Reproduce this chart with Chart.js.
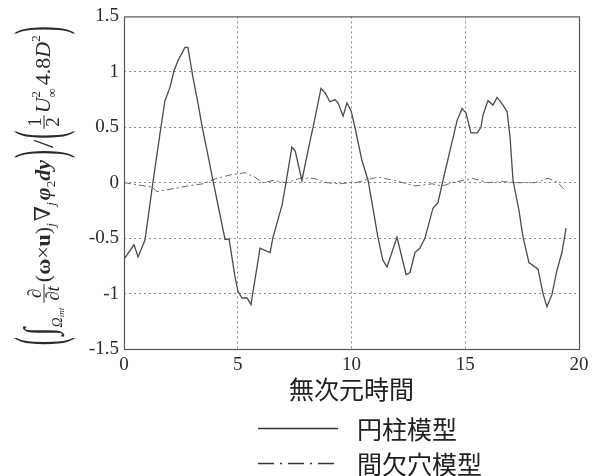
<!DOCTYPE html>
<html>
<head>
<meta charset="utf-8">
<script src="https://cdn.jsdelivr.net/npm/chart.js@4/dist/chart.umd.min.js"></script>
<style>
  html, body { margin: 0; padding: 0; background: #ffffff; }
  #wrap { width: 602px; height: 476px; }
</style>
</head>
<body>
<div id="wrap"><canvas id="c" width="602" height="476"></canvas></div>
<script>
// Non-dimensional time and force term for each model
const cylinderTime  = [0, 0.44, 0.62, 0.92, 1.27, 1.63, 1.80, 2.02, 2.20, 2.37, 2.68, 2.81, 3.03, 3.25, 3.43, 3.65, 3.91, 4.44, 4.62, 4.88, 5.01, 5.19, 5.41, 5.58, 5.98, 6.42, 6.55, 6.95, 7.12, 7.38, 7.52, 7.82, 8.18, 8.31, 8.66, 8.84, 9.05, 9.27, 9.41, 9.63, 9.80, 9.98, 10.15, 10.46, 10.73, 10.90, 11.16, 11.38, 11.56, 12.00, 12.40, 12.57, 12.79, 13.01, 13.23, 13.58, 13.80, 14.02, 14.33, 14.64, 14.86, 15.03, 15.25, 15.52, 15.69, 15.78, 16.00, 16.22, 16.40, 16.66, 16.84, 16.97, 17.10, 17.36, 17.54, 17.80, 18.20, 18.42, 18.59, 18.81, 19.03, 19.25, 19.43];
const cylinderValue = [-0.69, -0.56, -0.67, -0.52, 0.00, 0.51, 0.74, 0.86, 1.01, 1.10, 1.22, 1.22, 0.95, 0.72, 0.51, 0.29, 0.02, -0.51, -0.51, -0.85, -0.98, -1.04, -1.04, -1.10, -0.59, -0.63, -0.49, -0.20, 0.00, 0.32, 0.29, 0.02, 0.38, 0.50, 0.85, 0.81, 0.73, 0.75, 0.72, 0.60, 0.72, 0.65, 0.50, 0.20, 0.02, -0.18, -0.49, -0.70, -0.76, -0.49, -0.83, -0.81, -0.63, -0.59, -0.50, -0.23, -0.18, 0.02, 0.29, 0.56, 0.67, 0.63, 0.45, 0.45, 0.50, 0.61, 0.74, 0.70, 0.77, 0.70, 0.64, 0.41, 0.02, -0.25, -0.49, -0.72, -0.78, -1.00, -1.12, -1.01, -0.79, -0.63, -0.41];

const slotTime  = [0, 1.23, 1.45, 2.02, 2.77, 3.47, 4.09, 4.66, 5.01, 5.32, 5.76, 6.11, 6.55, 7.16, 7.74, 8.31, 8.92, 9.49, 9.93, 10.15, 11.16, 11.91, 12.79, 13.54, 13.98, 14.42, 15.30, 16.00, 16.62, 17.32, 18.07, 18.64, 19.08, 19.38];
const slotValue = [0.00, -0.04, -0.08, -0.06, -0.03, -0.01, 0.04, 0.07, 0.08, 0.09, 0.05, 0.00, 0.02, 0.00, 0.04, 0.04, 0.00, -0.01, 0.00, 0.00, 0.05, 0.02, -0.03, -0.01, -0.03, 0.00, 0.04, 0.00, 0.01, 0.00, 0.00, 0.04, 0.00, -0.07];

const xTicks = [0, 5, 10, 15, 20];
const yTicks = [-1.5, -1, -0.5, 0, 0.5, 1, 1.5];
const seriesNames = ['円柱模型', '間欠穴模型'];
const xTitle = '無次元時間';

const SERIF = '"Liberation Serif", "DejaVu Serif", serif';
const CJK = '"Noto Sans CJK JP", "Noto Sans CJK SC", sans-serif';

const toPoints = (xs, ys) => xs.map((x, i) => ({ x: x, y: ys[i] }));

// Solid frame around the plotting area
const framePlugin = {
  id: 'frame',
  afterDatasetsDraw(chart) {
    const { ctx, chartArea: a } = chart;
    ctx.save();
    ctx.strokeStyle = '#555';
    ctx.lineWidth = 1.2;
    ctx.strokeRect(a.left + 0.5, a.top + 0.5, a.right - a.left, a.bottom - a.top);
    ctx.restore();
  }
};

// Legend stacked under the axis title: line sample followed by the name
const legendPlugin = {
  id: 'stackLegend',
  afterDraw(chart) {
    const ctx = chart.ctx;
    const rows = [428, 463];
    const samples = [[], [16, 6, 2, 6]];
    ctx.save();
    chart.data.datasets.forEach((ds, i) => {
      const y = rows[i];
      ctx.strokeStyle = '#333';
      ctx.lineWidth = 1.6;
      ctx.setLineDash(samples[i]);
      ctx.beginPath();
      ctx.moveTo(258, y + 0.5);
      ctx.lineTo(i === 0 ? 338 : 334, y + 0.5);
      ctx.stroke();
      ctx.setLineDash([]);
      ctx.fillStyle = '#222';
      ctx.font = '25px ' + CJK;
      ctx.textAlign = 'left';
      ctx.textBaseline = 'middle';
      ctx.fillText(ds.label, 357, y + 1);
    });
    ctx.restore();
  }
};

// Rotated y-axis expression drawn piece by piece
const yTitlePlugin = {
  id: 'yTitle',
  afterDraw(chart) {
    const ctx = chart.ctx;
    const F = (style, size) => `${style} ${size}px ${SERIF}`;
    const S = 22, AX = 6;
    const big = { s: '(', font: F('', 24), stretch: 2.8, gap: 2 };
    const bigR = { s: ')', font: F('', 24), stretch: 2.8, gap: 2 };
    const items = [
      big,
      { s: '\u222B', font: F('', 28), stretch: 1.5, gap: 0 },
      { s: '\u03A9', font: F('italic', 14), dy: -12 },
      { s: 'int', font: F('italic', 9), dy: -14, gap: 5 },
      { frac: ['\u2202', '\u2202t'], font: F('italic', 19), gap: 2 },
      { s: '(', font: F('', S) },
      { s: '\u03C9', font: F('bold', S) },
      { s: '\u00D7', font: F('', S) },
      { s: 'u', font: F('bold', S) },
      { s: ')', font: F('', S) },
      { s: 'j', font: F('italic', 13), dy: -5, gap: 2 },
      { s: '\u2207', font: F('', S) },
      { s: 'j', font: F('italic', 13), dy: -5, gap: 2 },
      { s: '\u03C6', font: F('bold italic', S) },
      { s: '2', font: F('', 13), dy: -5 },
      { s: 'dy', font: F('bold italic', S), gap: 2 },
      bigR,
      { s: '/', font: F('', 30), dy: -3, gap: 1 },
      big,
      { frac: ['1', '2'], font: F('', 19), gap: 2 },
      { s: 'U', font: F('italic', S) },
      { supsub: ['2', '\u221E'], font: F('', 13), gap: 3 },
      { s: '4.8', font: F('', S) },
      { s: 'D', font: F('italic', S) },
      { s: '2', font: F('', 13), dy: 10, gap: 1 },
      bigR
    ];
    ctx.save();
    const widths = items.map(it => {
      ctx.font = it.font;
      if (it.frac) return Math.max(ctx.measureText(it.frac[0]).width, ctx.measureText(it.frac[1]).width) + 4;
      if (it.supsub) return Math.max(ctx.measureText(it.supsub[0]).width, ctx.measureText(it.supsub[1]).width);
      return ctx.measureText(it.s).width;
    });
    const total = widths.reduce((p, w, i) => p + w + (items[i].gap || 0), 0);
    const a = chart.chartArea;
    ctx.translate(50, (a.top + a.bottom) / 2 + 2);
    ctx.rotate(-Math.PI / 2);
    ctx.fillStyle = '#2a2a2a';
    ctx.strokeStyle = '#2a2a2a';
    ctx.textBaseline = 'alphabetic';
    let x = -total / 2;
    items.forEach((it, i) => {
      ctx.font = it.font;
      const w = widths[i];
      if (it.frac) {
        ctx.textAlign = 'center';
        ctx.lineWidth = 1;
        ctx.beginPath();
        ctx.moveTo(x, -AX);
        ctx.lineTo(x + w, -AX);
        ctx.stroke();
        ctx.fillText(it.frac[0], x + w / 2, -AX - 3);
        ctx.fillText(it.frac[1], x + w / 2, -AX + 15);
      } else if (it.supsub) {
        ctx.textAlign = 'left';
        ctx.fillText(it.supsub[0], x, -10);
        ctx.fillText(it.supsub[1], x, 6);
      } else if (it.stretch) {
        // tall delimiters: stretch a normal glyph across the axis line
        const m = ctx.measureText(it.s);
        const mid = (m.actualBoundingBoxAscent - m.actualBoundingBoxDescent) / 2;
        ctx.save();
        ctx.translate(x, -AX);
        ctx.scale(1, it.stretch);
        ctx.textAlign = 'left';
        ctx.fillText(it.s, 0, mid);
        ctx.restore();
      } else {
        ctx.textAlign = 'left';
        ctx.fillText(it.s, x, -(it.dy || 0));
      }
      x += w + (it.gap || 0);
    });
    ctx.restore();
  }
};

const edgeTransparent = (ctx, first, last) => {
  const v = ctx.tick ? ctx.tick.value : null;
  return (v === first || v === last) ? 'rgba(0,0,0,0)' : '#8a8a8a';
};

new Chart(document.getElementById('c'), {
  type: 'line',
  data: {
    datasets: [
      {
        label: seriesNames[0],
        data: toPoints(cylinderTime, cylinderValue),
        borderColor: '#4a4a4a',
        borderWidth: 1.3,
        pointRadius: 0,
        tension: 0,
        fill: false
      },
      {
        label: seriesNames[1],
        data: toPoints(slotTime, slotValue),
        borderColor: '#6a6a6a',
        borderWidth: 1,
        borderDash: [7, 3, 2, 3],
        pointRadius: 0,
        tension: 0,
        fill: false
      }
    ]
  },
  options: {
    responsive: false,
    animation: false,
    events: [],
    layout: { padding: { top: 16, right: 23, left: 0, bottom: 0 } },
    plugins: {
      legend: { display: false },
      tooltip: { enabled: false },
      title: { display: false }
    },
    scales: {
      x: {
        type: 'linear',
        min: 0,
        max: 20,
        afterBuildTicks: s => { s.ticks = xTicks.map(v => ({ value: v })); },
        afterFit: s => { s.height = 127; },
        border: { display: false, dash: [2, 3] },
        grid: {
          drawTicks: false,
          color: c => edgeTransparent(c, 0, 20),
          lineWidth: 1
        },
        ticks: {
          padding: 5,
          color: '#2a2a2a',
          font: { family: SERIF, size: 19 },
          callback: v => String(v)
        },
        title: {
          display: true,
          text: xTitle,
          color: '#222',
          font: { family: CJK, size: 25 },
          padding: { top: 0, bottom: 72 }
        }
      },
      y: {
        type: 'linear',
        min: -1.5,
        max: 1.5,
        afterBuildTicks: s => { s.ticks = yTicks.map(v => ({ value: v })); },
        afterFit: s => { s.width = 124; },
        border: { display: false, dash: [2, 3] },
        grid: {
          drawTicks: false,
          color: c => edgeTransparent(c, -1.5, 1.5),
          lineWidth: 1
        },
        ticks: {
          padding: 5,
          color: '#2a2a2a',
          font: { family: SERIF, size: 19 },
          callback: v => String(v)
        }
      }
    }
  },
  plugins: [framePlugin, legendPlugin, yTitlePlugin]
});
</script>
</body>
</html>
